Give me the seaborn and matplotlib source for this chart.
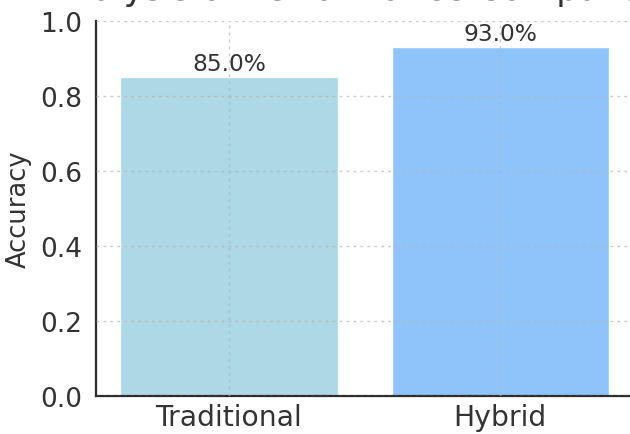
import matplotlib
matplotlib.use("Agg")
import matplotlib.pyplot as plt
import seaborn as sns
import pandas as pd

# Model accuracy by approach
models = ["Traditional", "Hybrid"]
accuracy = [0.85, 0.93]
bar_colors = ["#ADD8E6", "#8EC4FA"]
y_ticks = [0.0, 0.2, 0.4, 0.6, 0.8, 1.0]

sns.set_theme(style="white")
plt.rcParams["font.family"] = ["DejaVu Sans"]

df = pd.DataFrame({"Model": models, "Accuracy": accuracy})

fig = plt.figure(figsize=(6.3, 4.35), dpi=100)
ax = fig.add_axes([96 / 630, 38 / 435, 540 / 630, 375 / 435])

sns.barplot(data=df, x="Model", y="Accuracy", hue="Model",
            palette=bar_colors, width=0.8, ax=ax, legend=False,
            saturation=1.0, zorder=1)

ax.set_xlim(-0.49, 1.5)
ax.set_ylim(0, 1.0)
ax.set_yticks(y_ticks)
ax.set_yticklabels([f"{t:.1f}" for t in y_ticks])

ax.grid(True, linestyle=(0, (2, 3)), color="#b5b5b5", linewidth=1.0, alpha=0.7, zorder=2)
ax.set_axisbelow(False)

for side in ["top", "right"]:
    ax.spines[side].set_visible(False)
for side in ["left", "bottom"]:
    ax.spines[side].set_color("#2b2b2b")
    ax.spines[side].set_linewidth(1.6)

ax.tick_params(axis="both", direction="in", length=5, width=1.2, color="#2b2b2b",
               labelcolor="#333333")
ax.tick_params(axis="y", pad=10, labelsize=19)
ax.tick_params(axis="x", pad=5, labelsize=20.3)

ax.set_xlabel("")
ax.set_ylabel("Accuracy", fontsize=18.5, color="#333333", labelpad=6)

for cont in ax.containers:
    vals = [b.get_height() for b in cont]
    ax.bar_label(cont, labels=[f"{v * 100:.1f}%" for v in vals],
                 padding=1.5, fontsize=16.8, color="#333333")

ax.set_title("Analysis of Performance Comparison", fontsize=25, color="#333333", pad=15.8)

fig.savefig("out.png", dpi=100)
